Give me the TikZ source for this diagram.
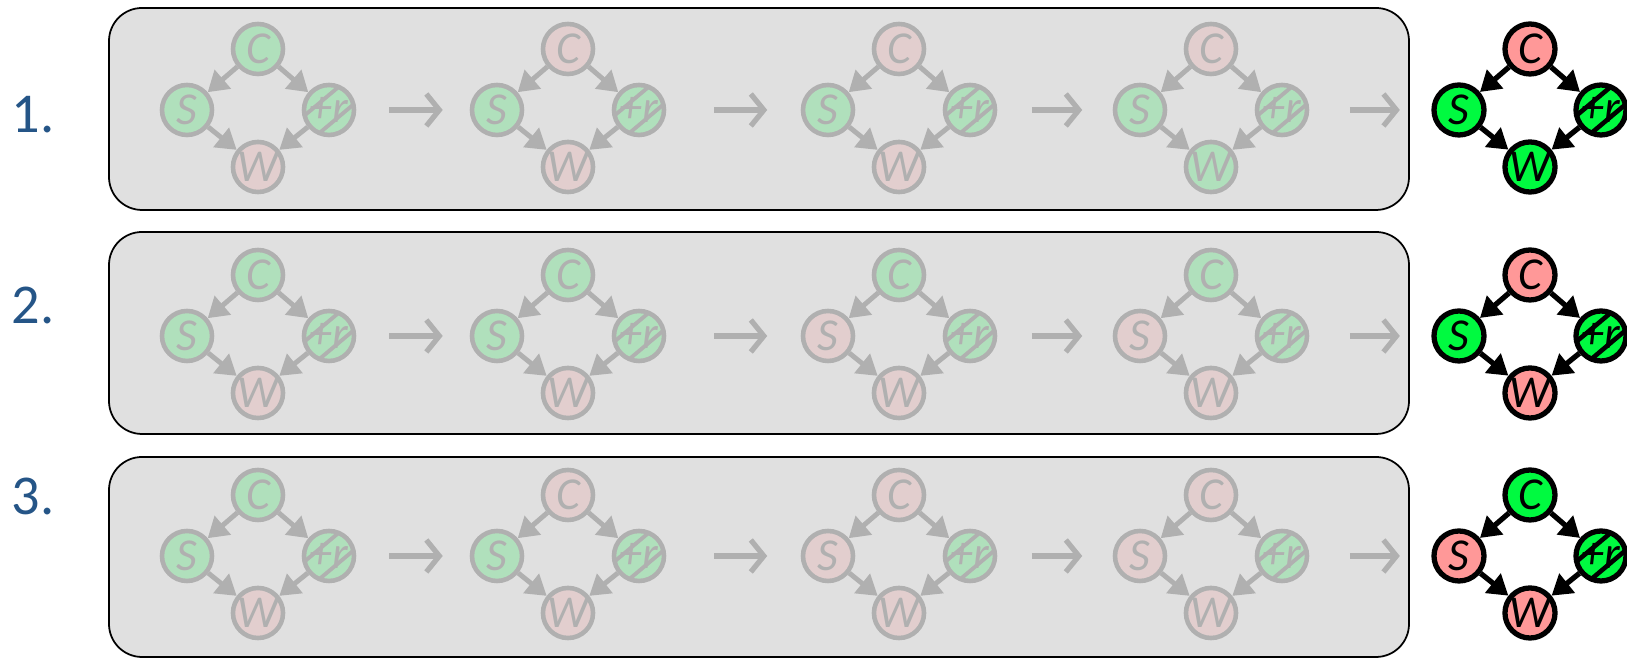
\documentclass[tikz,border=0pt]{standalone}
\usepackage{fontspec}
\setmainfont{Carlito}
\usetikzlibrary{arrows.meta,positioning,calc}
\definecolor{fadedg}{RGB}{176,224,188}
\definecolor{fadedr}{RGB}{226,206,206}
\definecolor{brightg}{RGB}{0,250,64}
\definecolor{brightr}{RGB}{255,152,152}
\definecolor{fadeline}{RGB}{176,176,176}
\definecolor{boxgray}{RGB}{224,224,224}
\definecolor{labelblue}{RGB}{37,85,135}
\tikzset{
  basecirc/.style={circle,minimum size=0.5cm,inner sep=0pt,font=\fontsize{13}{14}\selectfont\itshape},
  fadednode/.style={basecirc,draw=fadeline,line width=1.3pt,text=fadeline},
  brightnode/.style={basecirc,draw=black,line width=1.5pt,text=black},
  fadedhatch/.style={path picture={
      \foreach \o in {-0.115,0.115}
        \draw[fadeline,line width=1.1pt] (path picture bounding box.center) ++(130:\o) ++(40:-0.4) -- ++(40:0.8);}},
  brighthatch/.style={path picture={
      \foreach \o in {-0.115,0.115}
        \draw[black,line width=1.3pt] (path picture bounding box.center) ++(130:\o) ++(40:-0.4) -- ++(40:0.8);}},
  fadededge/.style={-{Triangle[length=0.2cm,width=0.24cm]},line width=1.4pt,color=fadeline},
  brightedge/.style={-{Triangle[length=0.2cm,width=0.24cm]},line width=1.5pt,color=black},
  steparr/.style={-{Straight Barb[length=0.13cm,width=0.32cm]},line width=1.5pt,color=fadeline},
  rowbox/.style={draw=black,line width=0.5pt,fill=boxgray,rounded corners=0.33cm},
  rowlabel/.style={text=labelblue,font=\fontsize{16}{18}\selectfont}
}
% #1 name, #2 position, #3 faded/bright, #4-#7 state of C, S, +r, W (g/r)
\newcommand{\bnet}[7]{%
  \coordinate (#1) at #2;
  \node[#3node,fill=#3#4] (#1C) at ($(#1)+(0,0.61)$) {C};
  \node[#3node,fill=#3#5] (#1S) at ($(#1)+(-0.71,0)$) {S};
  \node[#3node,fill=#3#6,#3hatch] (#1R) at ($(#1)+(0.71,0)$) {+r};
  \node[#3node,fill=#3#7] (#1W) at ($(#1)+(0,-0.57)$) {W};
  \draw[#3edge] (#1C) -- (#1S);
  \draw[#3edge] (#1C) -- (#1R);
  \draw[#3edge] (#1S) -- (#1W);
  \draw[#3edge] (#1R) -- (#1W);
}

\begin{document}
\begin{tikzpicture}
  \useasboundingbox (0,0) rectangle (16.27,6.59);

  % row frames
  \draw[rowbox] (1.09,6.51) rectangle (14.09,4.49);
  \draw[rowbox] (1.09,4.27) rectangle (14.09,2.25);
  \draw[rowbox] (1.09,2.02) rectangle (14.09,0.02);

  \node[rowlabel] (lab1) at (0.33,5.44) {1.};
  \node[rowlabel] (lab2) at (0.33,3.54) {2.};
  \node[rowlabel] (lab3) at (0.33,1.63) {3.};

  % row 1
  \bnet{a1}{(2.58,5.49)}{faded}{g}{g}{g}{r}
  \bnet{a2}{(5.68,5.49)}{faded}{r}{g}{g}{r}
  \bnet{a3}{(8.99,5.49)}{faded}{r}{g}{g}{r}
  \bnet{a4}{(12.11,5.49)}{faded}{r}{g}{g}{g}
  \bnet{a5}{(15.30,5.49)}{bright}{r}{g}{g}{g}

  % row 2
  \bnet{b1}{(2.58,3.23)}{faded}{g}{g}{g}{r}
  \bnet{b2}{(5.68,3.23)}{faded}{g}{g}{g}{r}
  \bnet{b3}{(8.99,3.23)}{faded}{g}{r}{g}{r}
  \bnet{b4}{(12.11,3.23)}{faded}{g}{r}{g}{r}
  \bnet{b5}{(15.30,3.23)}{bright}{r}{g}{g}{r}

  % row 3
  \bnet{c1}{(2.58,1.03)}{faded}{g}{g}{g}{r}
  \bnet{c2}{(5.68,1.03)}{faded}{r}{g}{g}{r}
  \bnet{c3}{(8.99,1.03)}{faded}{r}{r}{g}{r}
  \bnet{c4}{(12.11,1.03)}{faded}{r}{r}{g}{r}
  \bnet{c5}{(15.30,1.03)}{bright}{g}{r}{g}{r}

  \foreach \r in {a,b,c}{
    \draw[steparr,shorten <=0.33cm,shorten >=0.27cm] (\r1R) -- (\r2S);
    \draw[steparr,shorten <=0.48cm,shorten >=0.335cm] (\r2R) -- (\r3S);
    \draw[steparr,shorten <=0.345cm,shorten >=0.305cm] (\r3R) -- (\r4S);
    \draw[steparr,shorten <=0.405cm,shorten >=0.315cm] (\r4R) -- (\r5S);
  }
\end{tikzpicture}
\end{document}
